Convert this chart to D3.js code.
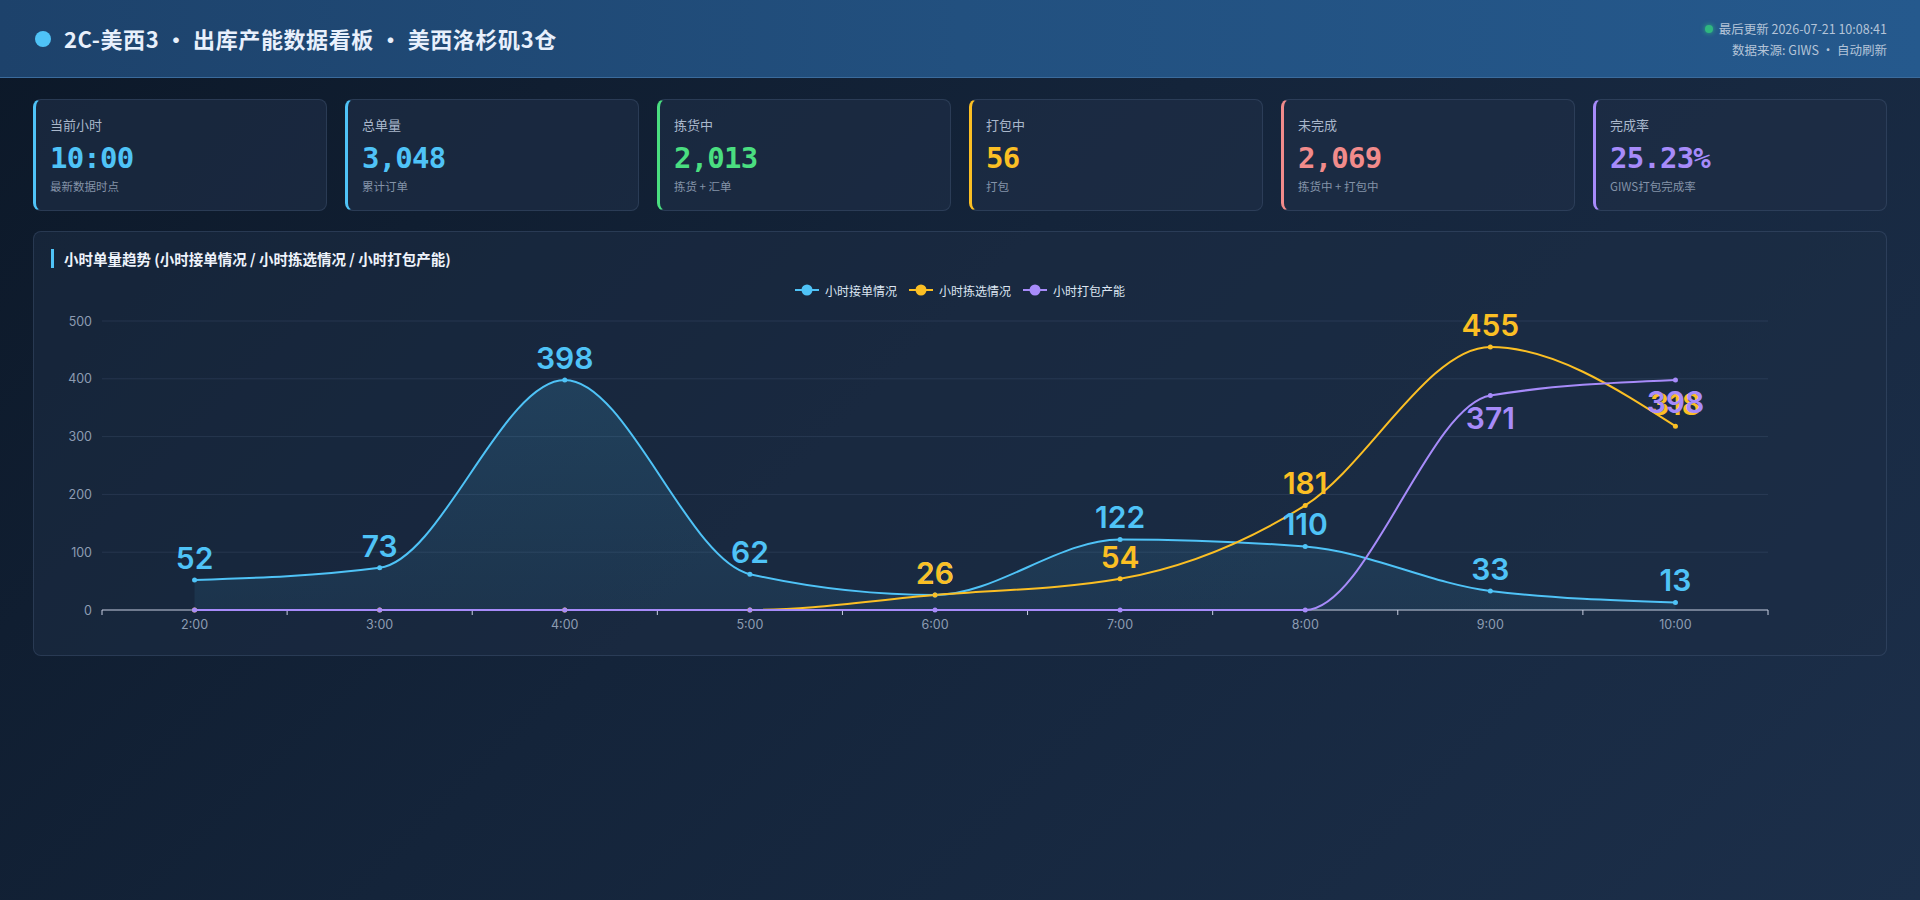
<!DOCTYPE html>
<html>
<head>
<meta charset="utf-8">
<script src="https://cdn.jsdelivr.net/npm/d3@7"></script>
<style>
  html, body { margin: 0; padding: 0; }
  body {
    width: 1920px; height: 900px; overflow: hidden; position: relative;
    background: linear-gradient(135deg, #0c1828 0%, #14243a 45%, #1c2f4a 100%);
    font-family: "Noto Sans CJK SC", "Noto Sans", sans-serif;
  }
  .header {
    position: absolute; left: 0; top: 0; width: 1920px; height: 77px;
    background: linear-gradient(90deg, #1d426b 0%, #22507f 50%, #25598d 100%);
    border-bottom: 1px solid #3b6b9c;
  }
  .header .dot {
    position: absolute; left: 35px; top: 31px; width: 16px; height: 16px;
    border-radius: 50%; background: #4fc3f7;
  }
  .header .title {
    position: absolute; left: 64px; top: 21px; font-size: 22px; font-weight: 700;
    color: #e8f0fc; letter-spacing: 0.6px; line-height: 34px;
  }
  .header .meta {
    position: absolute; right: 33px; top: 18px; text-align: right;
    font-size: 12.5px; color: #b4c4d8; line-height: 21px;
  }
  .header .meta .live {
    display: inline-block; width: 8px; height: 8px; border-radius: 50%;
    background: #2fb77f; margin-right: 6px; vertical-align: 1px;
    box-shadow: 0 0 5px #2fb77f;
  }
  .cards {
    position: absolute; left: 33px; top: 99px; width: 1854px; height: 112px;
    display: flex; gap: 18px;
  }
  .card {
    flex: 1; position: relative; box-sizing: border-box;
    background: rgba(30, 46, 70, 0.65); border: 1px solid rgba(120, 150, 190, 0.18);
    border-left-width: 3px; border-radius: 8px;
  }
  .card .lbl { position: absolute; left: 14px; top: 15px; font-size: 13px; color: #aab8cc; }
  .card .val {
    position: absolute; left: 14px; top: 41px; font-size: 29px; font-weight: 700;
    font-family: "DejaVu Sans Mono", monospace; letter-spacing: -0.8px;
  }
  .card .sub { position: absolute; left: 14px; top: 78px; font-size: 11.5px; color: #8493a8; }
  .panel {
    position: absolute; left: 33px; top: 231px; width: 1854px; height: 425px;
    box-sizing: border-box; background: rgba(30, 46, 70, 0.55);
    border: 1px solid rgba(120, 150, 190, 0.18); border-radius: 8px;
  }
  .panel svg { position: absolute; left: -1px; top: -1px; }
</style>
</head>
<body>
<div class="header">
  <div class="dot"></div>
  <div class="title">2C-美西3 · 出库产能数据看板 · 美西洛杉矶3仓</div>
  <div class="meta">
    <div><span class="live"></span>最后更新 2026-07-21 10:08:41</div>
    <div>数据来源: GIWS · 自动刷新</div>
  </div>
</div>
<div class="cards" id="cards"></div>
<div class="panel" id="panel"></div>

<script>
// KPI cards
const cardLabels = ["当前小时", "总单量", "拣货中", "打包中", "未完成", "完成率"];
const cardValues = ["10:00", "3,048", "2,013", "56", "2,069", "25.23%"];
const cardSubs = ["最新数据时点", "累计订单", "拣货 + 汇单", "打包", "拣货中 + 打包中", "GIWS打包完成率"];
const cardColors = ["#4fc3f7", "#4fc3f7", "#4ade80", "#fbbf24", "#f28b8b", "#a78bfa"];

// hourly series
const hours = ["2:00", "3:00", "4:00", "5:00", "6:00", "7:00", "8:00", "9:00", "10:00"];
const received = [52, 73, 398, 62, 26, 122, 110, 33, 13];
const picked = [0, 0, 0, 0, 26, 54, 181, 455, 318];
const packed = [0, 0, 0, 0, 0, 0, 0, 371, 398];
const yTicks = [0, 100, 200, 300, 400, 500];

const seriesNames = ["小时接单情况", "小时拣选情况", "小时打包产能"];
const seriesColors = ["#4fc3f7", "#fbbf24", "#a78bfa"];

// build cards
const cards = d3.select("#cards")
  .selectAll(".card")
  .data(cardLabels)
  .join("div")
  .attr("class", "card")
  .style("border-left-color", (d, i) => cardColors[i]);
cards.append("div").attr("class", "lbl").text(d => d);
cards.append("div").attr("class", "val")
  .style("color", (d, i) => cardColors[i])
  .text((d, i) => cardValues[i]);
cards.append("div").attr("class", "sub").text((d, i) => cardSubs[i]);

// chart
const W = 1854, H = 425;
const margin = { top: 90, right: 119, bottom: 46, left: 69 };

const svg = d3.select("#panel")
  .append("svg")
  .attr("width", W)
  .attr("height", H);

const defs = svg.append("defs");
const grad = defs.append("linearGradient")
  .attr("id", "areaGrad")
  .attr("x1", 0).attr("y1", 0).attr("x2", 0).attr("y2", 1);
grad.append("stop").attr("offset", "0%").attr("stop-color", "#4fc3f7").attr("stop-opacity", 0.16);
grad.append("stop").attr("offset", "100%").attr("stop-color", "#4fc3f7").attr("stop-opacity", 0.08);

// title
svg.append("rect")
  .attr("x", 18).attr("y", 18)
  .attr("width", 3).attr("height", 19)
  .attr("fill", "#4fc3f7");
svg.append("text")
  .attr("x", 31).attr("y", 27)
  .attr("dominant-baseline", "central")
  .style("font-size", "14.5px")
  .style("font-weight", 700)
  .style("fill", "#eef3fb")
  .text("小时单量趋势 (小时接单情况 / 小时拣选情况 / 小时打包产能)");

// legend
const legend = svg.append("g");
let lx = 0;
seriesNames.forEach((name, i) => {
  const g = legend.append("g").attr("transform", `translate(${lx},0)`);
  g.append("line")
    .attr("x1", 0).attr("x2", 24)
    .attr("stroke", seriesColors[i]).attr("stroke-width", 2);
  g.append("circle")
    .attr("cx", 12).attr("r", 5.5)
    .attr("fill", seriesColors[i]);
  const t = g.append("text")
    .attr("x", 30)
    .attr("dominant-baseline", "central")
    .style("font-size", "12px")
    .style("fill", "#dde6f2")
    .text(name);
  lx += 30 + t.node().getComputedTextLength() + 12;
});
legend.attr("transform", `translate(${(W - (lx - 12)) / 2},59)`);

const x = d3.scaleBand()
  .domain(hours)
  .range([margin.left, W - margin.right]);
const y = d3.scaleLinear()
  .domain([0, 500])
  .range([H - margin.bottom, margin.top]);
const cx = d => x(d) + x.bandwidth() / 2;

// grid
svg.append("g")
  .selectAll("line")
  .data(yTicks.slice(1))
  .join("line")
  .attr("x1", margin.left).attr("x2", W - margin.right)
  .attr("y1", d => y(d)).attr("y2", d => y(d))
  .attr("stroke", "rgba(150,175,210,0.12)");

// y axis labels
const yAxis = svg.append("g")
  .attr("transform", `translate(${margin.left},0)`)
  .call(d3.axisLeft(y).tickValues(yTicks).tickSize(0).tickPadding(10));
yAxis.select(".domain").remove();
yAxis.selectAll("text")
  .style("font-family", "Inter, sans-serif")
  .style("font-size", "12.5px")
  .style("fill", "#8d9cb2");

// x axis with boundary ticks
const xAxis = svg.append("g")
  .attr("transform", `translate(0,${H - margin.bottom})`);
xAxis.append("line")
  .attr("x1", margin.left).attr("x2", W - margin.right)
  .attr("stroke", "#c9cfe2").attr("stroke-width", 1);
const bounds = hours.map(h => x(h)).concat([W - margin.right]);
xAxis.selectAll(".tk")
  .data(bounds)
  .join("line")
  .attr("class", "tk")
  .attr("x1", d => d).attr("x2", d => d)
  .attr("y1", 0).attr("y2", 5)
  .attr("stroke", "#c9cfe2");
xAxis.selectAll(".xl")
  .data(hours)
  .join("text")
  .attr("class", "xl")
  .attr("x", d => cx(d))
  .attr("y", 14)
  .attr("text-anchor", "middle")
  .attr("dominant-baseline", "central")
  .style("font-family", "Inter, sans-serif")
  .style("font-size", "12.5px")
  .style("fill", "#8d9cb2")
  .text(d => d);

// series
const allSeries = [received, picked, packed];
const line = d3.line()
  .x((d, i) => cx(hours[i]))
  .y(d => y(d))
  .curve(d3.curveMonotoneX);
const area = d3.area()
  .x((d, i) => cx(hours[i]))
  .y0(y(0))
  .y1(d => y(d))
  .curve(d3.curveMonotoneX);

svg.append("path")
  .datum(received)
  .attr("d", area)
  .attr("fill", "url(#areaGrad)");

allSeries.forEach((s, k) => {
  svg.append("path")
    .datum(s)
    .attr("d", line)
    .attr("fill", "none")
    .attr("stroke", seriesColors[k])
    .attr("stroke-width", 2);
});

allSeries.forEach((s, k) => {
  svg.append("g")
    .selectAll("circle")
    .data(s)
    .join("circle")
    .attr("cx", (d, i) => cx(hours[i]))
    .attr("cy", d => y(d))
    .attr("r", 2.5)
    .attr("fill", seriesColors[k]);
});

// value labels: packed below the point, others above; zeros hidden
allSeries.forEach((s, k) => {
  svg.append("g")
    .selectAll("text")
    .data(s)
    .join("text")
    .attr("x", (d, i) => cx(hours[i]))
    .attr("y", d => k === 2 ? y(d) + 33 : y(d) - 11)
    .attr("text-anchor", "middle")
    .style("font-family", "Inter, Liberation Sans, sans-serif")
    .style("font-size", "30px")
    .style("font-weight", 600)
    .style("fill", seriesColors[k])
    .text(d => d === 0 ? "" : d);
});
</script>
</body>
</html>
